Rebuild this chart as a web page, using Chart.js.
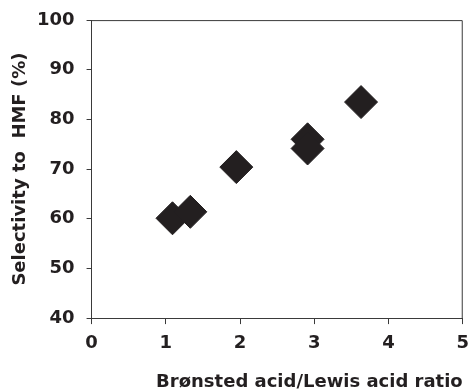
<!DOCTYPE html>
<html>
<head>
<meta charset="utf-8">
<script src="https://cdn.jsdelivr.net/npm/chart.js@4.4.0/dist/chart.umd.min.js"></script>
<style>
  html, body { margin: 0; padding: 0; background: #fff; }
  #wrap { width: 470px; height: 392px; position: relative; }
</style>
</head>
<body>
<div id="wrap"><canvas id="chart"></canvas></div>
<script>
// Brønsted/Lewis ratio vs HMF selectivity
const ratioValues = [1.09, 1.33, 1.95, 2.91, 2.91, 3.63];
const selectivityValues = [60.1, 61.4, 70.4, 76.0, 74.15, 83.5];
const xTitle = 'Brønsted acid/Lewis acid ratio';
const yTitle = 'Selectivity to  HMF (%)';

const ink = '#231f20';
const axisColor = '#3a3a3a';
const fontFamily = "'DejaVu Sans', Verdana, sans-serif";

Chart.defaults.font.family = fontFamily;
Chart.defaults.font.weight = 'bold';

// cierra el marco superior y derecho del área de datos
const frameBox = {
    id: 'frameBox',
    beforeDatasetsDraw(chart) {
        const a = chart.chartArea;
        const ctx = chart.ctx;
        ctx.save();
        ctx.strokeStyle = axisColor;
        ctx.lineWidth = 1;
        ctx.beginPath();
        ctx.moveTo(a.left, a.top + 0.5);
        ctx.lineTo(a.right - 0.5, a.top + 0.5);
        ctx.lineTo(a.right - 0.5, a.bottom);
        ctx.stroke();
        ctx.restore();
    }
};

const points = ratioValues.map((x, i) => ({ x: x, y: selectivityValues[i] }));

new Chart(document.getElementById('chart'), {
    type: 'scatter',
    data: {
        datasets: [{
            data: points,
            pointStyle: 'rectRot',
            pointRadius: 16.5,
            pointHoverRadius: 16.5,
            backgroundColor: ink,
            borderColor: ink,
            borderWidth: 1
        }]
    },
    options: {
        responsive: true,
        maintainAspectRatio: false,
        animation: false,
        // sin autoPadding: los rombos grandes no deben encoger el área
        layout: { padding: 0, autoPadding: false },
        plugins: {
            legend: { display: false },
            tooltip: { enabled: false }
        },
        scales: {
            x: {
                type: 'linear',
                min: 0,
                max: 5,
                ticks: {
                    stepSize: 1,
                    color: ink,
                    padding: 1,
                    // alto de línea grande: baja las etiquetas sin ensanchar el margen derecho
                    font: { size: 18, weight: 'bold', lineHeight: 2.05 }
                },
                grid: { display: true, drawOnChartArea: false, drawTicks: true, tickLength: 6, color: axisColor },
                border: { display: true, color: axisColor, width: 1 },
                title: {
                    display: true,
                    text: xTitle,
                    align: 'end',
                    color: ink,
                    padding: { top: 10.5, bottom: 0.5 },
                    font: { size: 18, weight: 'bold', lineHeight: 1 }
                }
            },
            y: {
                min: 40,
                max: 100,
                ticks: {
                    stepSize: 10,
                    color: ink,
                    padding: 12,
                    font: { size: 18, weight: 'bold', lineHeight: 0.9 }
                },
                grid: { display: true, drawOnChartArea: false, drawTicks: true, tickLength: 5, color: axisColor },
                border: { display: true, color: axisColor, width: 1 },
                title: {
                    display: true,
                    text: yTitle,
                    color: ink,
                    padding: { top: 11, bottom: -4 },
                    font: { size: 18, weight: 'bold', lineHeight: 1 }
                }
            }
        }
    },
    plugins: [frameBox]
});
</script>
</body>
</html>
